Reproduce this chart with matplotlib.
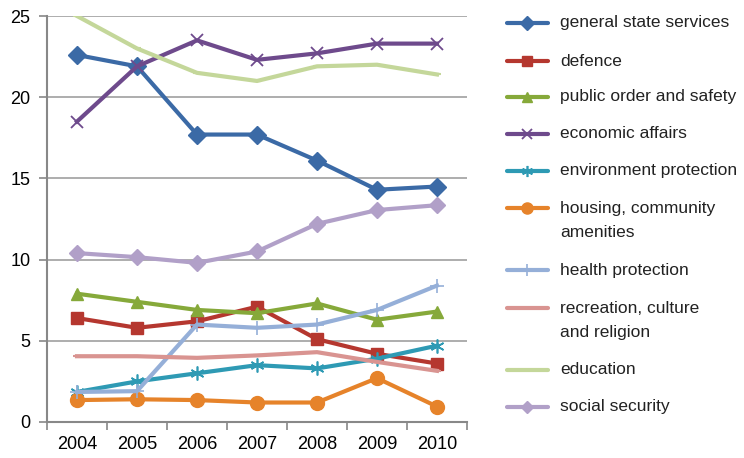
import matplotlib
matplotlib.use("Agg")
import matplotlib.pyplot as plt
from matplotlib.lines import Line2D
from matplotlib import font_manager

years = ["2004", "2005", "2006", "2007", "2008", "2009", "2010"]

general_state = [22.6, 21.9, 17.7, 17.7, 16.1, 14.3, 14.5]
defence = [6.4, 5.8, 6.2, 7.1, 5.1, 4.2, 3.6]
public_order = [7.9, 7.4, 6.9, 6.7, 7.3, 6.3, 6.8]
economic = [18.5, 21.9, 23.5, 22.3, 22.7, 23.3, 23.3]
environment = [1.85, 2.5, 3.0, 3.5, 3.3, 3.9, 4.7]
housing = [1.35, 1.4, 1.35, 1.2, 1.2, 2.7, 0.95]
health = [1.85, 1.9, 6.0, 5.8, 6.0, 6.9, 8.4]
recreation = [4.05, 4.05, 3.95, 4.1, 4.3, 3.7, 3.15]
education = [25.0, 23.0, 21.5, 21.0, 21.9, 22.0, 21.4]
social = [10.4, 10.15, 9.8, 10.5, 12.2, 13.05, 13.35]

labels = ["general state services", "defence", "public order and safety",
          "economic affairs", "environment protection",
          "housing, community\namenities", "health protection",
          "recreation, culture\nand religion", "education", "social security"]

names = [f.name for f in font_manager.fontManager.ttflist]
family = "Liberation Sans Narrow" if "Liberation Sans Narrow" in names else "Liberation Sans"
plt.rcParams["font.family"] = [family, "DejaVu Sans"]

series = [
    (general_state, "#3b6aa6", "D", 9, 1.0),
    (defence, "#b5372f", "s", 9, 1.0),
    (public_order, "#86a93a", "^", 9, 1.0),
    (economic, "#6e4a8c", "x", 9, 1.3),
    (environment, "#2e9ab4", (6, 2, 0), 10, 1.2),
    (housing, "#e6832a", "o", 10, 1.0),
    (health, "#95afd8", "+", 10, 1.2),
    (recreation, "#d99491", "_", 6, 1.5),
    (education, "#c4d79a", "_", 6, 1.5),
    (social, "#b1a0c8", "D", 8, 1.0),
]

fig = plt.figure(figsize=(7.44, 4.58), dpi=100)
ax = fig.add_axes([47 / 744, 1 - 422 / 458, 420 / 744, 406 / 458])

x = list(range(len(years)))
for vals, col, mk, ms, mew in series:
    ax.plot(x, vals, color=col, lw=3, marker=mk, markersize=ms,
            markeredgewidth=mew, markeredgecolor=col, markerfacecolor=col,
            solid_joinstyle="round")

ax.set_xlim(-0.5, len(years) - 0.5)
ax.set_ylim(0, 25)
ax.set_yticks(range(0, 26, 5))
ax.set_xticks(x)
ax.set_xticklabels(years)
ax.set_xticks([i - 0.5 for i in range(len(years) + 1)], minor=True)
ax.tick_params(axis="x", which="major", length=0, pad=10, labelsize=13)
ax.tick_params(axis="x", which="minor", length=6, color="#888888", width=1.2)
ax.tick_params(axis="y", length=6, color="#888888", width=1.2, labelsize=13, pad=6)
ax.grid(axis="y", color="#a0a0a0", lw=1.2)
ax.set_axisbelow(True)
for s in ["top", "right"]:
    ax.spines[s].set_visible(False)
for s in ["left", "bottom"]:
    ax.spines[s].set_color("#888888")
    ax.spines[s].set_linewidth(1.5)
ax.spines["left"].set_zorder(3)

# legend drawn by hand so multi-line labels keep the handle on the first line
entry_y = [23, 61, 97, 134, 171, 208, 270, 308, 370, 407]
for (vals, col, mk, ms, mew), lab, py in zip(series, labels, entry_y):
    yf = 1 - py / 458
    fig.add_artist(Line2D([507 / 744, 548 / 744], [yf, yf], transform=fig.transFigure,
                          color=col, lw=3, solid_capstyle="round"))
    fig.add_artist(Line2D([527 / 744], [yf], transform=fig.transFigure, color=col,
                          marker=mk, markersize=ms * 0.8, markeredgewidth=mew,
                          markeredgecolor=col, markerfacecolor=col, lw=0))
    if "\n" in lab:
        fig.text(560 / 744, yf + 7 / 458, lab, ha="left", va="top",
                 fontsize=12.5, color="#222222", linespacing=1.75)
    else:
        fig.text(560 / 744, yf, lab, ha="left", va="center",
                 fontsize=12.5, color="#222222")

fig.savefig("out.png", dpi=100)
